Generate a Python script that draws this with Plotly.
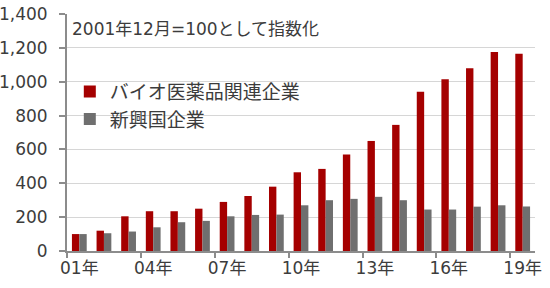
import plotly.graph_objects as go

years = ["01年", "02年", "03年", "04年", "05年", "06年", "07年", "08年", "09年", "10年",
         "11年", "12年", "13年", "14年", "15年", "16年", "17年", "18年", "19年"]
bio = [100, 120, 205, 235, 235, 250, 290, 325, 380, 465,
       485, 570, 650, 745, 940, 1015, 1080, 1175, 1165]
emerging = [100, 105, 115, 140, 170, 178, 205, 213, 215, 270,
            300, 308, 320, 300, 245, 245, 262, 270, 263]
series_names = ["バイオ医薬品関連企業", "新興国企業"]
note = "2001年12月=100として指数化"
y_ticks = [0, 200, 400, 600, 800, 1000, 1200, 1400]

FONT = "DejaVu Sans, Noto Sans CJK JP, sans-serif"
TXT = "#3c3c3c"
AX = "#8c8c8c"

idx = list(range(len(years)))
label_idx = idx[::3]

fig = go.Figure()
fig.add_trace(go.Bar(x=idx, y=bio, name=series_names[0], marker=dict(color="#a50000", line=dict(width=0))))
fig.add_trace(go.Bar(x=idx, y=emerging, name=series_names[1], marker=dict(color="#6f6f6f", line=dict(width=0))))

fig.update_layout(
    width=550, height=288,
    margin=dict(l=67, r=15, t=14, b=37, autoexpand=False),
    paper_bgcolor="white", plot_bgcolor="white",
    barmode="group", bargap=0.4, bargroupgap=0,
    font=dict(family=FONT, color=TXT, size=17),
    showlegend=True,
    legend=dict(x=0.006, y=0.753, xanchor="left", yanchor="top", xref="paper", yref="paper",
                font=dict(size=19, family="Noto Sans CJK JP", color=TXT),
                bgcolor="rgba(0,0,0,0)", tracegroupgap=0, itemclick=False),
    xaxis=dict(
        range=[-0.5, len(years) - 0.5], automargin=False,
        tickmode="array", tickvals=label_idx, ticktext=[years[i] for i in label_idx],
        ticks="", showgrid=False, showline=True, linecolor=AX, linewidth=2,
        ticklabelstandoff=1,
        minor=dict(tickvals=[i - 0.5 for i in label_idx], ticks="outside", ticklen=5,
                   tickcolor=AX, tickwidth=2, showgrid=False),
        tickfont=dict(size=17, family=FONT, color=TXT),
        zeroline=False, fixedrange=True,
    ),
    yaxis=dict(
        range=[0, 1400], tickmode="array", tickvals=y_ticks, automargin=False,
        tickformat=",d", showgrid=True, gridcolor="#d6d6d6", gridwidth=1,
        showline=True, linecolor=AX, linewidth=2, ticks="outside", ticklen=6,
        tickcolor=AX, tickwidth=2, zeroline=False, ticklabelstandoff=8,
        tickfont=dict(size=17, family=FONT, color=TXT), fixedrange=True,
    ),
    annotations=[dict(text=note, x=0, y=1400, xref="paper", yref="y",
                      xanchor="left", yanchor="top", showarrow=False, yshift=-3, xshift=3,
                      font=dict(size=17, family=FONT, color=TXT))],
)

fig.write_html("out.html")
